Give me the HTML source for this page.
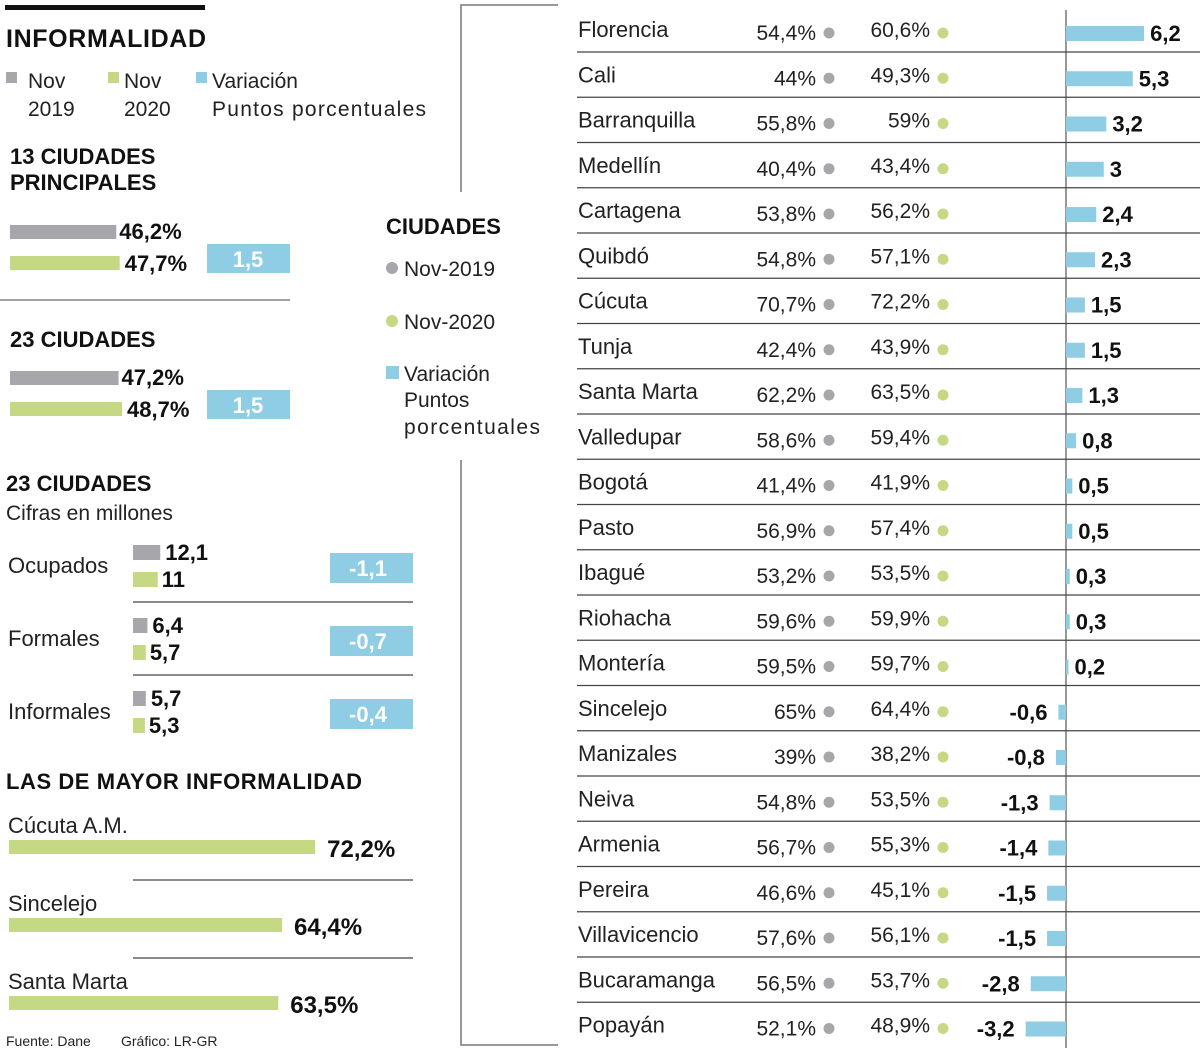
<!DOCTYPE html>
<html><head><meta charset="utf-8"><style>
body{margin:0;background:#fff;}
svg{display:block;font-family:"Liberation Sans",sans-serif;}
.b{font-weight:bold;}
</style></head><body>
<svg id="s" width="1200" height="1051" viewBox="0 0 1200 1051" xmlns="http://www.w3.org/2000/svg">
<g>
<rect x="5" y="5" width="200" height="5" fill="#111"/>
<text x="6" y="47" font-size="25" class="b" fill="#111" textLength="200">INFORMALIDAD</text>
<g font-size="21" fill="#222">
<rect x="6" y="72" width="11" height="11" fill="#a7a6ab"/><text x="28" y="88">Nov</text><text x="28" y="116">2019</text>
<rect x="108" y="72" width="11" height="11" fill="#c5d985"/><text x="124" y="88">Nov</text><text x="124" y="116">2020</text>
<rect x="196" y="72" width="11" height="11" fill="#8ecde4"/><text x="212" y="88">Variación</text><text x="212" y="116" textLength="214">Puntos porcentuales</text>
</g>
<text x="10" y="164" font-size="22" class="b" fill="#111">13 CIUDADES</text>
<text x="10" y="190" font-size="22" class="b" fill="#111">PRINCIPALES</text>
<g id="sum"></g>
<line x1="0" y1="300" x2="290" y2="300" stroke="#444"/>
<text x="10" y="347" font-size="22" class="b" fill="#111">23 CIUDADES</text>
<text x="6" y="491" font-size="22" class="b" fill="#111">23 CIUDADES</text>
<text x="6" y="520" font-size="21" fill="#222">Cifras en millones</text>
<g id="mil"></g>
<text x="6" y="789" font-size="22" class="b" fill="#111" textLength="356">LAS DE MAYOR INFORMALIDAD</text>
<g id="topg"></g>
<text x="6" y="1046" font-size="14" fill="#222">Fuente: Dane</text>
<text x="121" y="1046" font-size="14" fill="#222">Gráfico: LR-GR</text>
</g>
<g fill="#222">
<polyline points="558,5 461,5 461,192" fill="none" stroke="#777" stroke-width="1.5"/>
<polyline points="461,460 461,1045 558,1045" fill="none" stroke="#777" stroke-width="1.5"/>
<text x="386" y="234" font-size="22" class="b" fill="#111">CIUDADES</text>
<circle cx="392" cy="268" r="6" fill="#a7a6ab"/><text x="404" y="276" font-size="21">Nov-2019</text>
<circle cx="392" cy="321" r="6" fill="#c5d985"/><text x="404" y="329" font-size="21">Nov-2020</text>
<rect x="386" y="366" width="13" height="13" fill="#8ecde4"/>
<text x="404" y="381" font-size="21">Variación</text>
<text x="404" y="407" font-size="21">Puntos</text>
<text x="404" y="434" font-size="21" textLength="136">porcentuales</text>
</g>
<g id="tbl"></g>
</svg>
<script>
const cities=["Florencia","Cali","Barranquilla","Medellín","Cartagena","Quibdó","Cúcuta","Tunja","Santa Marta","Valledupar","Bogotá","Pasto","Ibagué","Riohacha","Montería","Sincelejo","Manizales","Neiva","Armenia","Pereira","Villavicencio","Bucaramanga","Popayán"];
const v2019=["54,4%","44%","55,8%","40,4%","53,8%","54,8%","70,7%","42,4%","62,2%","58,6%","41,4%","56,9%","53,2%","59,6%","59,5%","65%","39%","54,8%","56,7%","46,6%","57,6%","56,5%","52,1%"];
const v2020=["60,6%","49,3%","59%","43,4%","56,2%","57,1%","72,2%","43,9%","63,5%","59,4%","41,9%","57,4%","53,5%","59,9%","59,7%","64,4%","38,2%","53,5%","55,3%","45,1%","56,1%","53,7%","48,9%"];
const variation=[6.2,5.3,3.2,3,2.4,2.3,1.5,1.5,1.3,0.8,0.5,0.5,0.3,0.3,0.2,-0.6,-0.8,-1.3,-1.4,-1.5,-1.5,-2.8,-3.2];
const sumVals=[[46.2,47.7,1.5],[47.2,48.7,1.5]];
const milLabels=["Ocupados","Formales","Informales"];
const mil2019=[12.1,6.4,5.7];
const mil2020=[11,5.7,5.3];
const milVar=[-1.1,-0.7,-0.4];
const topCities=["Cúcuta A.M.","Sincelejo","Santa Marta"];
const topVals=[72.2,64.4,63.5];

const NS="http://www.w3.org/2000/svg";
function mk(p,t,a,txt){const e=document.createElementNS(NS,t);for(const k in a)e.setAttribute(k,a[k]);if(txt!==undefined)e.textContent=txt;p.appendChild(e);return e;}
const fmt=v=>String(v).replace('.',',');
const G="#a7a6ab",GR="#c5d985",B="#8ecde4";
const tbl=document.getElementById('tbl');
const x0=1066,sc=12.6,rowY=i=>7+i*45.25;
mk(tbl,'line',{x1:x0,y1:10,x2:x0,y2:1048,stroke:'#777','stroke-width':1.5});
cities.forEach((c,i)=>{
 const y=rowY(i),cy=y+24;
 if(i<cities.length-1){const l=mk(tbl,'line',{x1:577,y1:y+45,x2:1200,y2:y+45,stroke:'#444','stroke-width':1.2});}
 const t=mk(tbl,'text',{x:578,y:cy+6,'font-size':22,fill:'#222'},c);
 mk(tbl,'text',{x:816,y:cy+9,'font-size':21,fill:'#222','text-anchor':'end'},v2019[i]);
 mk(tbl,'circle',{cx:829,cy:cy+2,r:5.5,fill:G});
 mk(tbl,'text',{x:930,y:cy+6,'font-size':21,fill:'#222','text-anchor':'end'},v2020[i]);
 mk(tbl,'circle',{cx:943,cy:cy+2,r:5.5,fill:GR});
 const v=variation[i],w=Math.abs(v)*sc;
 const r=mk(tbl,'rect',{x:v>=0?x0:x0-w,y:cy-5,width:w,height:15,fill:B});
 
 mk(tbl,'text',{x:v>=0?x0+w+6:x0-w-11,y:cy+10,'font-size':22,'font-weight':'bold',fill:'#111','text-anchor':v>=0?'start':'end'},fmt(v));
});
const sumG=document.getElementById('sum');const ps=2.3;
sumVals.forEach((s,k)=>{
 const y=225+k*146;
 mk(sumG,'rect',{x:10,y:y,width:s[0]*ps,height:14,fill:G});
 mk(sumG,'text',{x:10+s[0]*ps+3,y:y+14,'font-size':22,'font-weight':'bold',fill:'#111'},fmt(s[0])+'%');
 mk(sumG,'rect',{x:10,y:y+31,width:s[1]*ps,height:14,fill:GR});
 mk(sumG,'text',{x:10+s[1]*ps+5,y:y+46,'font-size':22,'font-weight':'bold',fill:'#111'},fmt(s[1])+'%');
 const r=mk(sumG,'rect',{x:207,y:y+19,width:83,height:29,fill:B});
 
 mk(sumG,'text',{x:248,y:y+42,'font-size':22,'font-weight':'bold',fill:'#fff','text-anchor':'middle'},fmt(s[2]));
});
const milG=document.getElementById('mil');const ms=2.25;
milLabels.forEach((l,i)=>{
 const y=545+i*73;
 mk(milG,'text',{x:8,y:y+28,'font-size':22,fill:'#222'},l);
 mk(milG,'rect',{x:133,y:y,width:mil2019[i]*ms,height:15,fill:G});
 mk(milG,'text',{x:133+mil2019[i]*ms+5,y:y+15,'font-size':22,'font-weight':'bold',fill:'#111'},fmt(mil2019[i]));
 mk(milG,'rect',{x:133,y:y+27,width:mil2020[i]*ms,height:15,fill:GR});
 mk(milG,'text',{x:133+mil2020[i]*ms+4,y:y+42,'font-size':22,'font-weight':'bold',fill:'#111'},fmt(mil2020[i]));
 const r=mk(milG,'rect',{x:330,y:y+8,width:83,height:30,fill:B});
 
 mk(milG,'text',{x:368,y:y+31,'font-size':22,'font-weight':'bold',fill:'#fff','text-anchor':'middle'},fmt(milVar[i]));
 if(i<2)mk(milG,'line',{x1:133,y1:y+57,x2:413,y2:y+57,stroke:'#444','stroke-width':1.2});
});
const topG=document.getElementById('topg');const ts=4.24;
topCities.forEach((c,i)=>{
 const y=840+i*78;
 mk(topG,'text',{x:8,y:y-7,'font-size':22,fill:'#222'},c);
 const r=mk(topG,'rect',{x:9,y:y,width:topVals[i]*ts,height:14,fill:GR});
 
 mk(topG,'text',{x:9+topVals[i]*ts+12,y:y+17,'font-size':24,'font-weight':'bold',fill:'#111'},fmt(topVals[i])+'%');
 if(i<2)mk(topG,'line',{x1:133,y1:y+40,x2:413,y2:y+40,stroke:'#444','stroke-width':1.2});
});
</script>
</body></html>
